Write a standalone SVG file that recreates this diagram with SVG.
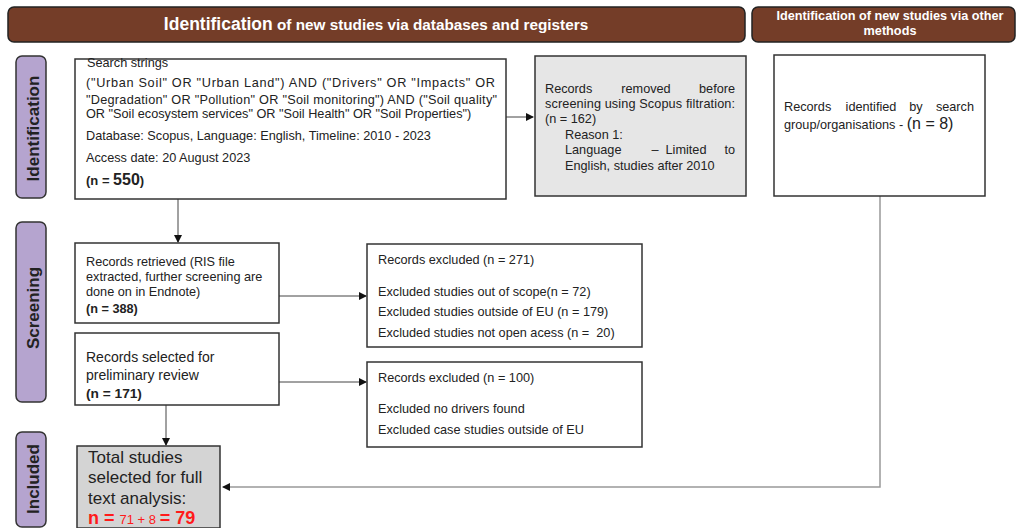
<svg xmlns="http://www.w3.org/2000/svg" width="1022" height="528" viewBox="0 0 1022 528">
<style>
text{font-family:"Liberation Sans",Arial,sans-serif;fill:#222}
.hdr{fill:#743d28;stroke:#222;stroke-width:1.5}
.hdrt{fill:#fff;font-weight:bold}
.phase{fill:#b5a4cf;stroke:#333;stroke-width:1.5}
.phaset{font-weight:bold;font-size:17px;fill:#222}
.box{fill:#fff;stroke:#333;stroke-width:1.5}
.gbox{fill:#e6e6e6;stroke:#333;stroke-width:1.5}
.tbox{fill:#d4d4d4;stroke:#333;stroke-width:1.5}
.t{font-size:12.7px}
.con{fill:none;stroke:#444;stroke-width:1}
.con2{fill:none;stroke:#999;stroke-width:1.5}
.red{fill:#ff1a1a;font-weight:bold}
.e{text-anchor:end}
.m{text-anchor:middle}
</style>
<defs>
<marker id="ah" markerWidth="8" markerHeight="8" refX="7" refY="4" orient="auto" markerUnits="userSpaceOnUse">
<path d="M0,0 L8,4 L0,8 z" fill="#111"/>
</marker>
</defs>

<g id="header-db">
<rect class="hdr" x="8" y="7" width="737" height="35" rx="6"/>
<text class="hdrt" x="376" y="30" text-anchor="middle"><tspan font-size="17.5">Identification</tspan><tspan font-size="15.3"> of new studies via databases and registers</tspan></text>
</g>
<g id="header-other">
<rect class="hdr" x="752" y="7" width="263" height="35" rx="6"/>
<text class="hdrt" font-size="12.7" x="890" y="20" text-anchor="middle">Identification of new studies via other</text>
<text class="hdrt" font-size="12.7" x="890" y="35" text-anchor="middle">methods</text>
</g>

<g id="phase-identification">
<rect class="phase" x="16" y="56" width="30" height="142" rx="6"/>
<text class="phaset" transform="translate(38.5,128.5) rotate(-90)" text-anchor="middle">Identification</text>
</g>
<g id="phase-screening">
<rect class="phase" x="16" y="222" width="30" height="180" rx="6"/>
<text class="phaset" transform="translate(38.5,308) rotate(-90)" text-anchor="middle">Screening</text>
</g>
<g id="phase-included">
<rect class="phase" x="16" y="432" width="30" height="95" rx="6"/>
<text class="phaset" transform="translate(38.5,479) rotate(-90)" text-anchor="middle">Included</text>
</g>

<g id="connectors">
<line class="con" x1="506" y1="117" x2="533" y2="117" marker-end="url(#ah)"/>
<line class="con" x1="178" y1="199" x2="178" y2="242" marker-end="url(#ah)"/>
<line class="con" x1="279" y1="296" x2="366" y2="296" marker-end="url(#ah)"/>
<line class="con" x1="279" y1="382" x2="366" y2="382" marker-end="url(#ah)"/>
<line class="con" x1="166" y1="405" x2="166" y2="445" marker-end="url(#ah)"/>
<polyline class="con2" points="880,196 880,487 223,487" marker-end="url(#ah)"/>
</g>

<g id="search">
<rect class="box" x="75" y="59" width="431" height="140"/>
<text class="t" x="87" y="67">Search strings</text>
<text class="t" x="86" y="87" textLength="409" lengthAdjust="spacing">("Urban Soil" OR "Urban Land") AND ("Drivers" OR "Impacts" OR</text>
<text class="t" x="86" y="104" textLength="411" lengthAdjust="spacing">"Degradation" OR "Pollution" OR "Soil monitoring") AND ("Soil quality"</text>
<text class="t" x="86" y="118">OR "Soil ecosystem services" OR "Soil Health" OR "Soil Properties")</text>
<text class="t" x="86" y="140">Database: Scopus, Language: English, Timeline: 2010 - 2023</text>
<text class="t" x="86" y="162">Access date: 20 August 2023</text>
<text x="86" y="185" font-weight="bold"><tspan font-size="13">(n = </tspan><tspan font-size="16">550</tspan><tspan font-size="13">)</tspan></text>
</g>

<g id="removed">
<rect class="gbox" x="535" y="56" width="211" height="140"/>
<text class="t" x="545" y="93">Records</text>
<text class="t m" x="646" y="93">removed</text>
<text class="t e" x="735" y="93">before</text>
<text class="t" x="545" y="108" textLength="190" lengthAdjust="spacing">screening using Scopus filtration:</text>
<text class="t" x="545" y="123">(n = 162)</text>
<text class="t" x="565" y="139">Reason 1:</text>
<text class="t" x="565" y="154">Language</text>
<text class="t m" x="655" y="154">–</text>
<text class="t m" x="686" y="154">Limited</text>
<text class="t e" x="735" y="154">to</text>
<text class="t" x="565" y="170">English, studies after 2010</text>
</g>

<g id="other">
<rect class="box" x="774" y="55" width="211" height="141"/>
<text class="t" x="784" y="111">Records</text>
<text class="t m" x="871" y="111">identified</text>
<text class="t m" x="916" y="111">by</text>
<text class="t e" x="974" y="111">search</text>
<text x="784" y="129"><tspan font-size="12.7">group/organisations - </tspan><tspan font-size="16">(n = 8)</tspan></text>
</g>

<g id="retrieved">
<rect class="box" x="75" y="243" width="204" height="80"/>
<text class="t" x="86" y="266">Records retrieved (RIS file</text>
<text class="t" x="86" y="281">extracted, further screening are</text>
<text class="t" x="86" y="296">done on in Endnote)</text>
<text class="t" x="86" y="313" font-weight="bold">(n = 388)</text>
</g>

<g id="excluded1">
<rect class="box" x="367" y="244" width="275" height="103"/>
<text class="t" x="378" y="264">Records excluded (n = 271)</text>
<text class="t" x="378" y="296">Excluded studies out of scope(n = 72)</text>
<text class="t" x="378" y="316">Excluded studies outside of EU (n = 179)</text>
<text class="t" x="378" y="337" xml:space="preserve">Excluded studies not open acess (n =  20)</text>
</g>

<g id="selected">
<rect class="box" x="75" y="333" width="204" height="72"/>
<text font-size="14" x="86" y="362">Records selected for</text>
<text font-size="14" x="86" y="380">preliminary review</text>
<text font-size="13.7" x="86" y="398" font-weight="bold">(n = 171)</text>
</g>

<g id="excluded2">
<rect class="box" x="367" y="362" width="275" height="85"/>
<text class="t" x="378" y="382">Records excluded (n = 100)</text>
<text class="t" x="378" y="413">Excluded no drivers found</text>
<text class="t" x="378" y="434">Excluded case studies outside of EU</text>
</g>

<g id="total">
<rect class="tbox" x="77" y="446" width="143" height="82"/>
<text font-size="17" x="88" y="463">Total studies</text>
<text font-size="17" x="88" y="483">selected for full</text>
<text font-size="17" x="88" y="504">text analysis:</text>
<text x="88" y="524"><tspan class="red" font-size="18">n = </tspan><tspan fill="#ff1a1a" font-size="13">71 + 8 </tspan><tspan class="red" font-size="18">= 79</tspan></text>
</g>
</svg>
